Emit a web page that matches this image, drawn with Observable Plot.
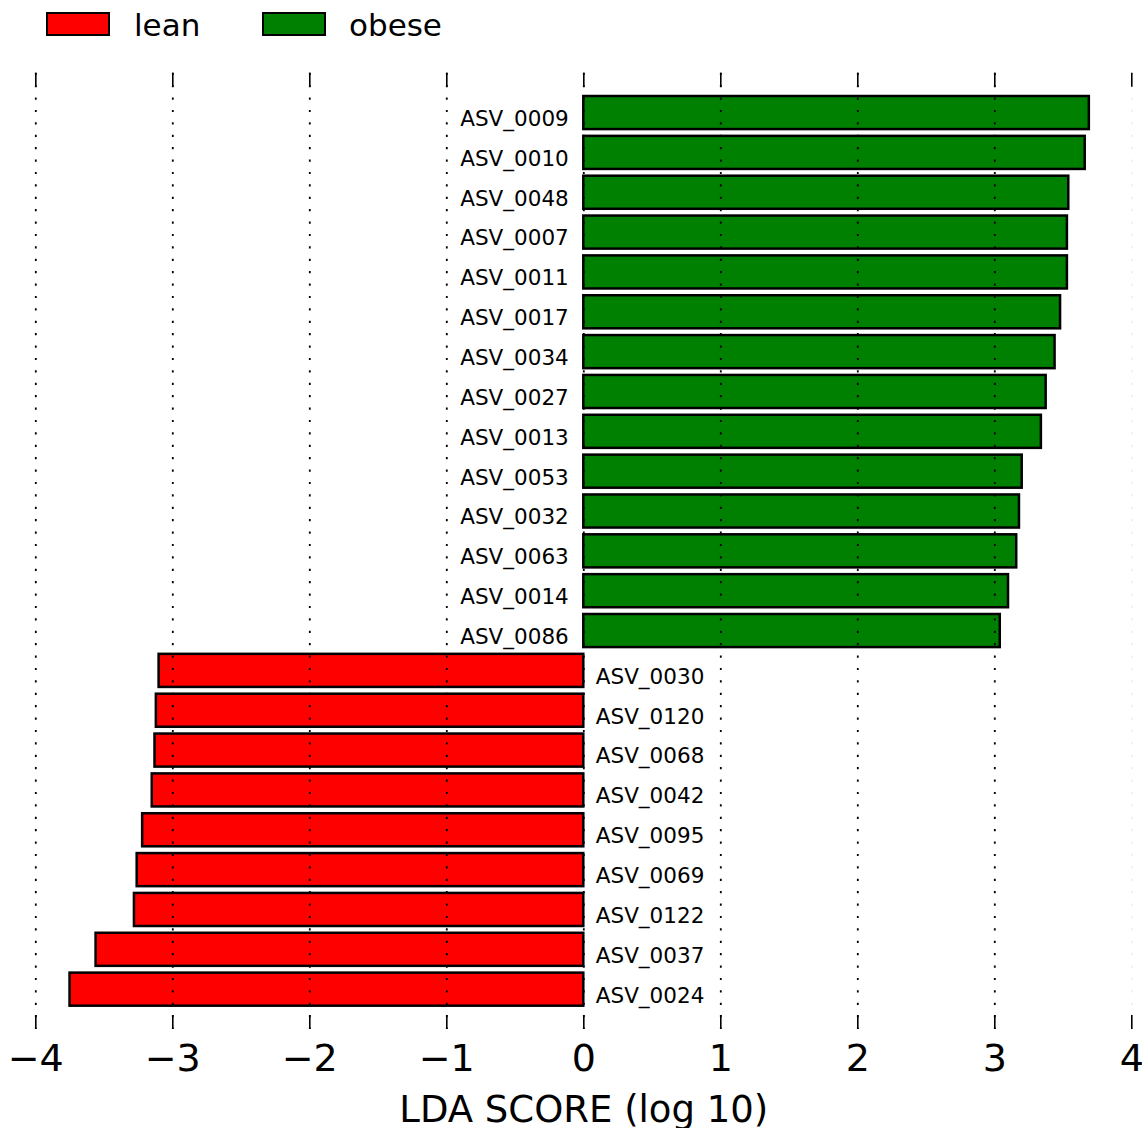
<!DOCTYPE html>
<html><head><meta charset="utf-8">
<script src="https://cdn.jsdelivr.net/npm/d3@7"></script>
<script src="https://cdn.jsdelivr.net/npm/@observablehq/plot@0.6"></script>
<style>
body{margin:0;background:#fff;font-family:"DejaVu Sans";}
#legend{position:relative;height:48px;width:1142px;}
.sw{position:absolute;top:12px;width:64px;height:24px;box-sizing:border-box;border:2px solid #000;}
.lt{position:absolute;top:9.5px;font-size:31px;line-height:1;color:#000;white-space:nowrap;}
</style></head><body>
<div id="legend"></div>
<div id="chart"></div>
<script>
const features = ["ASV_0009","ASV_0010","ASV_0048","ASV_0007","ASV_0011","ASV_0017","ASV_0034","ASV_0027","ASV_0013","ASV_0053","ASV_0032","ASV_0063","ASV_0014","ASV_0086",
  "ASV_0030","ASV_0120","ASV_0068","ASV_0042","ASV_0095","ASV_0069","ASV_0122","ASV_0037","ASV_0024"];
const ldaScores = [3.69,3.66,3.54,3.53,3.53,3.48,3.44,3.375,3.34,3.20,3.18,3.16,3.10,3.04,
  -3.10,-3.12,-3.13,-3.15,-3.22,-3.26,-3.28,-3.56,-3.75];
const featureClass = ["obese","obese","obese","obese","obese","obese","obese","obese","obese","obese","obese","obese","obese","obese",
  "lean","lean","lean","lean","lean","lean","lean","lean","lean"];
const classNames = ["lean","obese"];
const classColors = ["#ff0000","#008000"];
const xTicks = [-4,-3,-2,-1,0,1,2,3,4];
const axisTitle = "LDA SCORE (log 10)";

const data = features.map((f,i)=>({feature:f, score:ldaScores[i], cls:featureClass[i]}));

// legend
const legend = document.getElementById("legend");
const swLeft = [46,262], txLeft = [134,349];
classNames.forEach((c,i)=>{
  const s = document.createElement("div"); s.className="sw"; s.style.left=swLeft[i]+"px"; s.style.background=classColors[i]; legend.appendChild(s);
  const t = document.createElement("div"); t.className="lt"; t.style.left=txLeft[i]+"px"; t.textContent=c; legend.appendChild(t);
});

const W=1142, H=1080, mT=24.7, mB=99, mL=35.3, mR=10.7;
const frameH = H - mT - mB;
const tickLen = 14;
const fmt = d => d < 0 ? "\u2212" + Math.abs(d) : String(d);

const chart = Plot.plot({
  width: W, height: H,
  marginTop: mT, marginBottom: mB, marginLeft: mL, marginRight: mR,
  style: {fontFamily: "DejaVu Sans", background: "#fff", color: "#000"},
  x: {domain: [-4, 4]},
  y: {domain: features, axis: null, paddingInner: 0.17, paddingOuter: 0.585, round: false},
  color: {domain: classNames, range: classColors},
  marks: [
    Plot.barX(data, {x: "score", y: "feature", fill: "cls", stroke: "#000", strokeWidth: 2.5}),
    Plot.ruleX(xTicks.filter(d => d < 4), {x: d => d, stroke: "#000", strokeWidth: 1.8, strokeDasharray: "2.2,10.2"}),
    Plot.ruleX(xTicks.filter(d => d === 4), {x: d => d, stroke: "#000", strokeWidth: 1, strokeOpacity: 0.12, strokeDasharray: "2.2,10.2"}),
    Plot.ruleX(xTicks, {x: d => d, stroke: "#000", strokeWidth: 1.6, insetBottom: frameH - tickLen}),
    Plot.ruleX(xTicks, {x: d => d, stroke: "#000", strokeWidth: 1.6, insetTop: frameH - tickLen}),
    Plot.text(data.filter(d => d.score > 0), {x: 0, y: "feature", text: "feature", textAnchor: "end", dx: -15, dy: 6, fontSize: 21.5, fill: "#000"}),
    Plot.text(data.filter(d => d.score < 0), {x: 0, y: "feature", text: "feature", textAnchor: "start", dx: 12, dy: 6, fontSize: 21.5, fill: "#000"}),
    Plot.axisX({anchor: "bottom", ticks: xTicks, tickSize: 0, tickPadding: 15, fontSize: 38, tickFormat: fmt, label: null}),
    Plot.axisX({anchor: "bottom", ticks: [], tickSize: 0, fontSize: 37, label: axisTitle, labelAnchor: "center", labelArrow: "none", labelOffset: 92})
  ]
});
document.getElementById("chart").appendChild(chart);
</script>
</body></html>
